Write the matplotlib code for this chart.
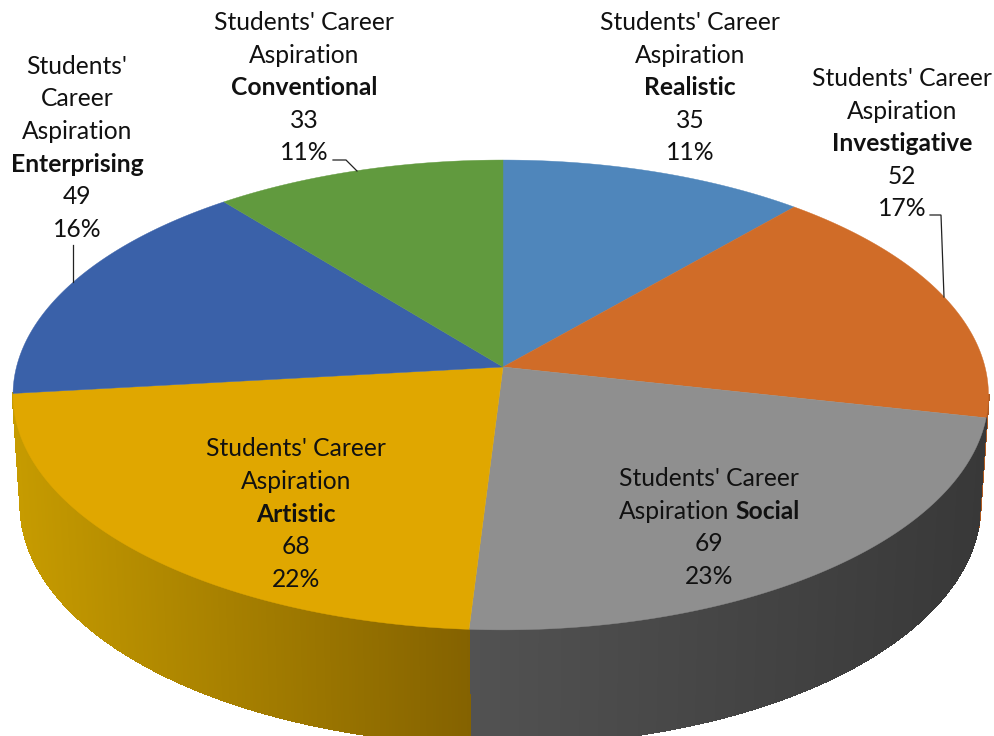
import numpy as np
import matplotlib
matplotlib.use("Agg")
import matplotlib.pyplot as plt
from matplotlib.collections import PolyCollection
from matplotlib.colors import to_rgb

series_name = "Students' Career Aspiration"
categories = ["Realistic", "Investigative", "Social", "Artistic", "Enterprising", "Conventional"]
values = [35, 52, 69, 68, 49, 33]
colors = ["#4f86bb", "#d06c28", "#8f8f8f", "#e0a700", "#3a61a9", "#619a3e"]
# side wall colours (left end, right end) of the horizontal shading
wall_colors = {
    "Investigative": ("#b05a20", "#b05a20"),
    "Social": ("#525252", "#383838"),
    "Artistic": ("#c69b00", "#846200"),
}

W, H = 995, 736
fig = plt.figure(figsize=(W / 100, H / 100), dpi=100, facecolor="white")
ax = fig.add_axes([0, 0, 1, 1])
ax.set_xlim(0, W)
ax.set_ylim(H, 0)
ax.axis("off")

K = 0.119


def top_pt(t):
    w = 1 + K * np.cos(t)
    s = np.sin(t)
    return 503 + np.where(s < 0, 486.5, 482) * s / w, 367 - 231.6 * np.cos(t) / w


def low_pt(t):
    w = 1 + K * np.cos(t)
    s = np.sin(t)
    return 503 + np.where(s < 0, 479, 474) * s / w, 476 - 236.6 * np.cos(t) / w


total = sum(values)
edges = np.radians(np.cumsum([0] + values) / total * 360)
VIS_A, VIS_B = np.radians(96.8), np.radians(263.6)

# side wall
for cat, a, b in zip(categories, edges[:-1], edges[1:]):
    lo, hi = max(a, VIS_A), min(b, VIS_B)
    if lo >= hi or cat not in wall_colors:
        continue
    ts = np.linspace(lo, hi, 240)
    xu, yu = top_pt(ts)
    xl, yl = low_pt(ts)
    polys, cols = [], []
    c0, c1 = map(np.array, map(to_rgb, wall_colors[cat]))
    xa, xb = min(xu.min(), xl.min()), max(xu.max(), xl.max())
    for i in range(len(ts) - 1):
        polys.append([(xu[i], yu[i]), (xu[i + 1], yu[i + 1]), (xl[i + 1], yl[i + 1]), (xl[i], yl[i])])
        f = ((xu[i] + xu[i + 1]) / 2 - xa) / max(xb - xa, 1)
        cols.append(tuple(c0 + (c1 - c0) * f))
    ax.add_collection(PolyCollection(polys, facecolors=cols, edgecolors=cols, linewidths=1.0,
                                     antialiased=False, zorder=1))

# top face
for col, a, b in zip(colors, edges[:-1], edges[1:]):
    ts = np.linspace(a, b, 200)
    x, y = top_pt(ts)
    ax.fill(np.r_[503, x], np.r_[367, y], color=col, lw=0.3, zorder=2)

FS = 17.7
renderer = fig.canvas.get_renderer()


def run_line(cx, base, runs):
    items = []
    for s, bold in runs:
        t = ax.text(0, base, s, fontsize=FS, family="Lato", color="#111111",
                    fontweight="bold" if bold else "normal", va="baseline", ha="left", zorder=5)
        items.append(t)
    sp = ax.text(0, base, "n n", fontsize=FS, family="Lato")
    n = ax.text(0, base, "nn", fontsize=FS, family="Lato")
    space = sp.get_window_extent(renderer).width - n.get_window_extent(renderer).width
    sp.remove()
    n.remove()
    widths = [t.get_window_extent(renderer).width for t in items]
    tot = sum(widths) + space * (len(items) - 1)
    x = cx - tot / 2
    for t, w in zip(items, widths):
        t.set_x(x)
        x += w + space


def pct(v):
    return f"{round(v / total * 100)}%"


first, second = "Students' Career", "Aspiration"
a1, a2, a3 = "Students'", "Career", "Aspiration"
label_layout = {
    "Realistic": (690, [30, 63, 95, 128, 160], [[(first, 0)], [(second, 0)]]),
    "Investigative": (902, [86, 119, 151, 184, 216], [[(first, 0)], [(second, 0)]]),
    "Artistic": (296, [456, 489, 522, 554, 587], [[(first, 0)], [(second, 0)]]),
    "Enterprising": (77, [74, 106, 139, 172, 204, 237], [[(a1, 0)], [(a2, 0)], [(a3, 0)]]),
    "Conventional": (304, [30, 63, 95, 128, 160], [[(first, 0)], [(second, 0)]]),
}
for cat, v in zip(categories, values):
    if cat == "Social":
        continue
    cx, bases, head = label_layout[cat]
    lines = head + [[(cat, 1)], [(str(v), 0)], [(pct(v), 0)]]
    for b, l in zip(bases, lines):
        run_line(cx, b, l)
v = values[categories.index("Social")]
for b, l in zip([486, 519, 551, 584], [[(first, 0)], [(second, 0), ("Social", 1)], [(str(v), 0)], [(pct(v), 0)]]):
    run_line(709, b, l)

# leader lines
leaders = [
    ([73, 73], [245, 282]),
    ([333, 346, 357], [160, 160, 171]),
    ([930, 941, 944], [215, 215, 297]),
]
for lx, ly in leaders:
    ax.plot(lx, ly, color="#222222", lw=0.9, zorder=4, solid_joinstyle="miter")

fig.savefig("out.png", dpi=100, facecolor="white")
